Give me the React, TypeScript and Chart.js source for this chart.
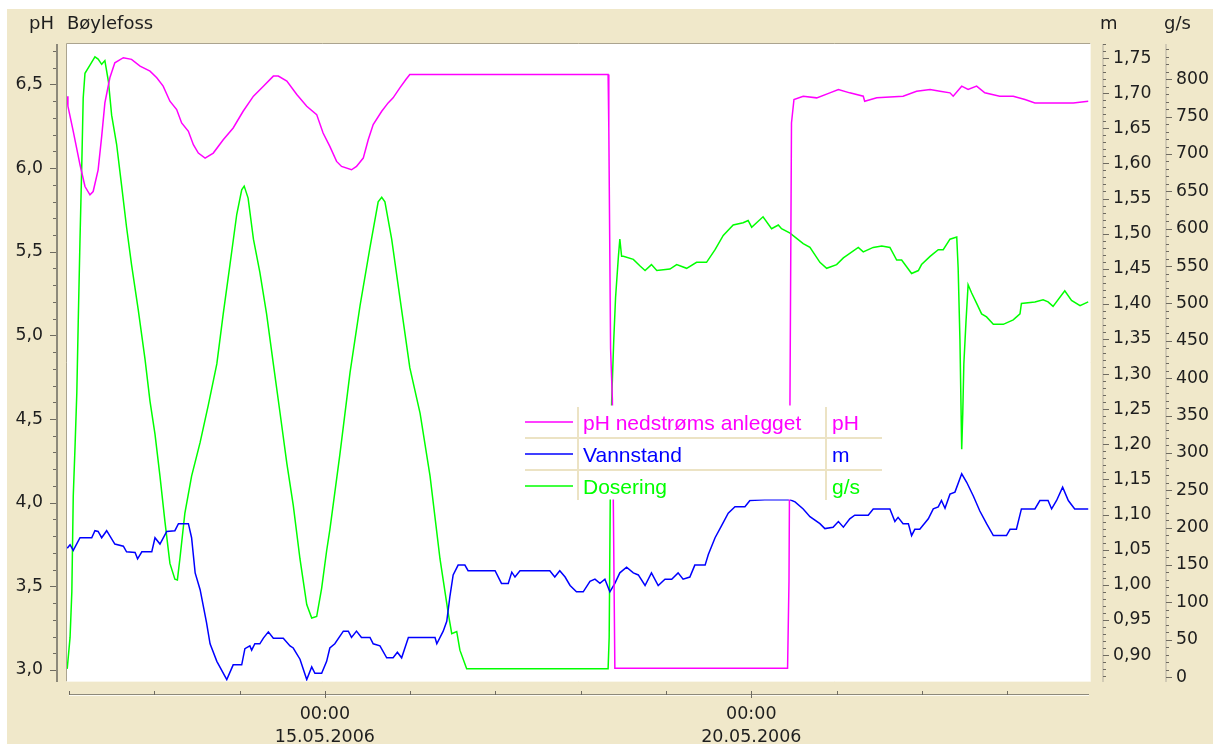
import React, { useEffect, useRef } from "react";
import { Chart, registerables } from "chart.js";

Chart.register(...registerables);

// ---- Data (x in hours since 12.05.2006 00:00) ----
const phHours = [-0.5, -0.3, 1.2, 3.1, 4.5, 5.9, 6.8, 8.2, 9.2, 10.1, 11.5, 12.9, 15.3, 17.6, 20.0, 22.8, 24.7, 26.5, 28.4, 30.3, 31.7, 33.6, 35.0, 36.4, 38.3, 40.6, 43.4, 46.2, 49.0, 51.9, 54.7, 57.5, 58.9, 61.3, 64.1, 66.9, 69.7, 71.5, 73.4, 75.3, 76.7, 79.5, 80.9, 82.8, 84.2, 85.6, 88.0, 89.8, 91.2, 93.1, 94.8, 95.9, 151.7, 151.9, 152.4, 152.9, 153.6, 202.2, 202.6, 203.3, 204.0, 206.6, 210.4, 214.1, 216.5, 219.7, 223.5, 223.9, 227.3, 234.7, 238.5, 242.3, 245.1, 247.9, 248.8, 251.2, 253.0, 255.4, 257.7, 261.9, 265.7, 269.0, 271.8, 276.0, 282.6, 286.8];
const phValues = [6.43, 6.37, 6.22, 6.02, 5.89, 5.84, 5.86, 5.99, 6.19, 6.39, 6.54, 6.63, 6.66, 6.65, 6.61, 6.58, 6.54, 6.49, 6.40, 6.35, 6.27, 6.22, 6.14, 6.09, 6.06, 6.09, 6.17, 6.24, 6.34, 6.43, 6.49, 6.55, 6.55, 6.52, 6.44, 6.37, 6.32, 6.21, 6.13, 6.04, 6.01, 5.99, 6.01, 6.06, 6.17, 6.26, 6.34, 6.39, 6.42, 6.48, 6.53, 6.56, 6.56, 6.24, 4.92, 4.62, 3.01, 3.01, 3.53, 6.27, 6.41, 6.43, 6.42, 6.45, 6.47, 6.45, 6.43, 6.40, 6.42, 6.43, 6.46, 6.47, 6.46, 6.45, 6.43, 6.49, 6.47, 6.49, 6.45, 6.43, 6.43, 6.41, 6.39, 6.39, 6.39, 6.40];

const levelHours = [-0.5, 0.3, 1.2, 3.1, 6.4, 7.3, 8.2, 9.2, 10.6, 12.9, 15.3, 16.2, 18.6, 19.3, 20.5, 23.3, 24.2, 25.6, 27.5, 29.8, 30.8, 33.6, 34.5, 35.5, 36.9, 38.7, 39.7, 41.6, 44.4, 46.2, 48.6, 49.5, 50.9, 51.4, 52.3, 53.7, 54.7, 56.1, 57.5, 60.3, 62.2, 63.1, 65.0, 66.9, 68.3, 69.2, 71.1, 72.5, 73.4, 74.8, 77.2, 78.6, 79.5, 80.9, 82.3, 84.7, 85.6, 87.5, 89.4, 91.2, 92.4, 93.6, 95.5, 103.0, 103.5, 105.3, 106.3, 107.2, 108.1, 109.5, 111.4, 112.3, 119.9, 121.7, 123.6, 124.6, 125.5, 126.9, 135.3, 136.7, 138.1, 139.6, 141.0, 142.8, 144.7, 146.6, 148.0, 149.4, 150.8, 152.2, 153.6, 155.0, 156.9, 158.8, 160.2, 162.1, 163.9, 165.8, 167.7, 169.6, 171.4, 172.8, 174.7, 176.1, 179.0, 179.9, 181.8, 183.6, 185.5, 187.4, 190.2, 191.6, 195.8, 202.9, 204.3, 206.6, 208.5, 211.3, 212.7, 215.0, 216.5, 217.9, 219.7, 221.1, 224.9, 226.3, 231.0, 232.4, 233.3, 234.7, 236.2, 237.1, 238.0, 239.4, 241.8, 243.2, 244.6, 245.5, 246.5, 247.9, 249.3, 251.2, 252.6, 254.5, 256.3, 258.2, 260.1, 263.8, 264.8, 266.6, 268.0, 271.8, 273.2, 275.5, 276.5, 277.9, 279.6, 281.2, 283.0, 286.8];
const levelValues = [1.052, 1.057, 1.049, 1.067, 1.067, 1.077, 1.076, 1.067, 1.077, 1.058, 1.055, 1.047, 1.046, 1.037, 1.047, 1.047, 1.067, 1.058, 1.076, 1.077, 1.087, 1.087, 1.067, 1.017, 0.993, 0.946, 0.916, 0.891, 0.865, 0.886, 0.886, 0.909, 0.913, 0.907, 0.916, 0.916, 0.924, 0.933, 0.924, 0.924, 0.913, 0.910, 0.894, 0.865, 0.883, 0.874, 0.874, 0.891, 0.91, 0.916, 0.934, 0.934, 0.925, 0.934, 0.925, 0.925, 0.916, 0.913, 0.896, 0.896, 0.904, 0.896, 0.925, 0.925, 0.916, 0.934, 0.948, 0.984, 1.014, 1.028, 1.028, 1.020, 1.020, 1.002, 1.002, 1.018, 1.011, 1.020, 1.020, 1.011, 1.020, 1.011, 0.999, 0.990, 0.990, 1.005, 1.008, 1.002, 1.008, 0.990, 1.002, 1.017, 1.025, 1.017, 1.014, 0.999, 1.017, 0.999, 1.008, 1.008, 1.017, 1.008, 1.011, 1.028, 1.028, 1.043, 1.067, 1.084, 1.102, 1.111, 1.111, 1.120, 1.121, 1.121, 1.118, 1.108, 1.097, 1.087, 1.080, 1.082, 1.090, 1.082, 1.094, 1.099, 1.099, 1.108, 1.108, 1.090, 1.096, 1.087, 1.087, 1.070, 1.079, 1.079, 1.094, 1.108, 1.111, 1.120, 1.109, 1.129, 1.132, 1.158, 1.146, 1.126, 1.105, 1.087, 1.070, 1.070, 1.079, 1.079, 1.108, 1.108, 1.120, 1.120, 1.108, 1.120, 1.139, 1.120, 1.108, 1.108];

const doseHours = [-0.5, 0.3, 0.8, 1.2, 1.7, 2.2, 2.6, 3.1, 3.6, 4.0, 4.5, 5.9, 7.3, 8.2, 9.2, 10.1, 11.1, 12.0, 13.4, 14.8, 16.2, 17.6, 19.5, 21.4, 22.8, 24.2, 25.6, 27.0, 28.4, 29.8, 30.5, 31.2, 32.6, 34.5, 36.9, 39.2, 41.6, 43.4, 45.3, 47.2, 48.6, 49.3, 50.4, 51.9, 53.7, 55.6, 57.5, 59.4, 61.3, 63.1, 65.0, 66.9, 68.3, 69.7, 71.1, 72.5, 73.4, 76.2, 79.1, 81.9, 84.7, 87.0, 88.0, 88.9, 90.8, 93.1, 95.9, 98.8, 101.6, 104.4, 106.7, 107.7, 109.1, 110.0, 111.9, 151.7, 152.0, 152.4, 152.7, 153.3, 153.8, 154.6, 155.0, 155.5, 156.0, 158.8, 160.7, 162.1, 163.9, 165.4, 169.1, 171.0, 173.8, 176.6, 179.4, 181.8, 184.1, 186.9, 189.7, 191.1, 192.1, 195.3, 197.7, 199.6, 200.5, 202.9, 206.6, 208.5, 211.3, 213.2, 216.0, 217.9, 218.8, 222.1, 223.5, 226.3, 228.7, 231.0, 232.9, 234.3, 237.1, 239.0, 239.9, 242.3, 244.6, 246.0, 247.9, 249.8, 250.2, 250.7, 251.2, 251.5, 251.8, 252.4, 253.0, 254.0, 255.4, 256.8, 258.2, 260.1, 262.9, 265.7, 267.6, 268.0, 271.8, 274.1, 275.5, 276.9, 280.2, 282.1, 284.5, 286.8];
const doseValues = [11, 53, 114, 242, 308, 380, 475, 586, 686, 775, 808, 819, 830, 827, 820, 825, 797, 752, 713, 658, 602, 552, 491, 425, 369, 325, 269, 208, 152, 131, 130, 158, 219, 269, 314, 364, 419, 486, 552, 619, 652, 657, 641, 586, 542, 486, 419, 353, 286, 230, 158, 97, 79, 81, 119, 169, 197, 297, 408, 497, 575, 636, 642, 636, 586, 508, 414, 353, 269, 158, 86, 58, 61, 36, 11, 11, 53, 297, 369, 452, 508, 563, 586, 563, 563, 559, 550, 544, 552, 544, 546, 552, 547, 555, 555, 572, 591, 605, 608, 611, 602, 616, 600, 605, 600, 594, 580, 575, 555, 547, 552, 561, 564, 575, 569, 575, 577, 575, 558, 558, 540, 544, 552, 563, 572, 572, 586, 589, 547, 452, 305, 353, 419, 475, 525, 514, 500, 486, 482, 472, 472, 478, 486, 500, 502, 505, 502, 496, 517, 504, 497, 502];

const xTickHours = [72, 192];
const xTickTimes = ["00:00", "00:00"];
const xTickDates = ["15.05.2006", "20.05.2006"];

const seriesNames = ["pH nedstrøms anlegget", "Vannstand", "Dosering"];
const seriesUnits = ["pH", "m", "g/s"];
const seriesColors = ["#ff00ff", "#0000ff", "#00ff00"];
const chartTitle = "Bøylefoss";

// ---- Styling ----
const TICK_FONT = '"DejaVu Sans", Verdana, sans-serif';
const LEGEND_FONT = '"Liberation Sans", Arial, sans-serif';
const TEXT = "#1e1e1e";
const AXIS_DARK = "#6f6b60";

const fmtComma = (v: number, d: number) => v.toFixed(d).replace(".", ",");

function stepTicks(scale: any, step: number) {
  const out: { value: number }[] = [];
  const k0 = Math.ceil(scale.min / step - 1e-9);
  const k1 = Math.floor(scale.max / step + 1e-9);
  for (let k = k0; k <= k1; k++) out.push({ value: Math.round(k * step * 1000) / 1000 });
  scale.ticks = out;
}

function drawMinorTicks(ctx: CanvasRenderingContext2D, scale: any, x: number, kFrom: number, kTo: number, unit: number, side: number) {
  ctx.strokeStyle = AXIS_DARK;
  ctx.lineWidth = 1;
  for (let k = kFrom; k <= kTo; k++) {
    const y = Math.round(scale.getPixelForValue(k * unit)) + 0.5;
    const len = k % 5 === 0 ? 6 : 3;
    ctx.beginPath();
    ctx.moveTo(x, y);
    ctx.lineTo(x + side * len, y);
    ctx.stroke();
  }
}

const decorPlugin = {
  id: "decor",
  beforeDraw(chart: any) {
    const { ctx, chartArea: a } = chart;
    ctx.save();
    ctx.fillStyle = "#ffffff";
    ctx.fillRect(a.left, a.top, a.right - a.left, a.bottom - a.top);
    ctx.restore();
  },
  afterDatasetsDraw(chart: any) {
    const { ctx } = chart;
    ctx.save();
    // legend table
    ctx.fillStyle = "#ffffff";
    ctx.fillRect(523, 405.5, 359, 94);
    ctx.fillStyle = "#ece3c4";
    ctx.fillRect(577, 407, 2, 93);
    ctx.fillRect(825, 407, 2, 93);
    ctx.fillRect(525, 437, 357, 2);
    ctx.fillRect(525, 469, 357, 2);
    const rowsY = [422, 454, 486];
    ctx.font = `21px ${LEGEND_FONT}`;
    ctx.textAlign = "left";
    ctx.textBaseline = "alphabetic";
    seriesNames.forEach((name, i) => {
      ctx.strokeStyle = seriesColors[i];
      ctx.lineWidth = 1.5;
      ctx.beginPath();
      ctx.moveTo(525, rowsY[i]);
      ctx.lineTo(573, rowsY[i]);
      ctx.stroke();
      ctx.fillStyle = seriesColors[i];
      ctx.fillText(name, 583, rowsY[i] + 7.6);
      ctx.fillText(seriesUnits[i], 832, rowsY[i] + 7.6);
    });
    ctx.restore();
  },
  afterDraw(chart: any) {
    const { ctx, chartArea: a, scales } = chart;
    ctx.save();
    ctx.lineWidth = 1;
    // plot frame (sunken look)
    ctx.strokeStyle = "#aba48f";
    ctx.beginPath();
    ctx.moveTo(a.left - 0.5, a.bottom + 0.5);
    ctx.lineTo(a.left - 0.5, a.top - 0.5);
    ctx.lineTo(a.right + 0.5, a.top - 0.5);
    ctx.stroke();
    ctx.strokeStyle = "#faf7ec";
    ctx.beginPath();
    ctx.moveTo(a.right + 0.5, a.top - 0.5);
    ctx.lineTo(a.right + 0.5, a.bottom + 0.5);
    ctx.lineTo(a.left - 0.5, a.bottom + 0.5);
    ctx.stroke();

    // left pH axis
    const yPh = scales.yPh;
    ctx.fillStyle = "#8d897a";
    ctx.fillRect(a.left - 11, a.top, 2, a.bottom - a.top + 1);
    drawMinorTicks(ctx, yPh, a.left - 11, Math.ceil(yPh.min * 10), Math.floor(yPh.max * 10), 0.1, -1);

    // right m axis
    const yM = scales.yM;
    const mx = a.right + 13;
    ctx.fillStyle = "#b3ae9f";
    ctx.fillRect(mx - 0.5, a.top, 1, a.bottom - a.top + 1);
    drawMinorTicks(ctx, yM, mx, Math.ceil(yM.min * 100), Math.floor(yM.max * 100), 0.01, 1);

    // right g/s axis
    const yG = scales.yG;
    const gx = a.right + 76;
    ctx.fillStyle = "#b3ae9f";
    ctx.fillRect(gx - 0.5, a.top, 1, a.bottom - a.top + 1);
    drawMinorTicks(ctx, yG, gx, Math.ceil(yG.min / 10), Math.floor(yG.max / 10), 10, 1);

    // bottom time axis
    const xs = scales.x;
    const by = a.bottom + 13;
    const x0 = Math.round(xs.getPixelForValue(0));
    ctx.fillStyle = "#8d897a";
    ctx.fillRect(x0, by, a.right - 1 - x0, 1);
    ctx.fillStyle = "#fdfbf2";
    ctx.fillRect(x0, by + 1, a.right - 1 - x0, 1);
    ctx.strokeStyle = AXIS_DARK;
    for (let h = 0; h <= xs.max; h += 24) {
      const px = Math.round(xs.getPixelForValue(h)) + 0.5;
      const major = xTickHours.indexOf(h) >= 0;
      ctx.beginPath();
      ctx.moveTo(px, by - 3);
      ctx.lineTo(px, major ? by + 4 : by + 1);
      ctx.stroke();
    }

    // titles
    ctx.fillStyle = TEXT;
    ctx.font = `18px ${TICK_FONT}`;
    ctx.textAlign = "left";
    ctx.textBaseline = "alphabetic";
    ctx.fillText(seriesUnits[0], 29, 29);
    ctx.fillText(chartTitle, 67, 29);
    ctx.fillText(seriesUnits[1], 1100, 29);
    ctx.fillText(seriesUnits[2], 1164, 29);
    ctx.restore();
  },
};

const tickFont = { family: TICK_FONT, size: 17.3 };

export default function App() {
  const ref = useRef<HTMLCanvasElement>(null);
  useEffect(() => {
    if (!ref.current) return;
    const mk = (hs: number[], vs: number[]) => hs.map((h, i) => ({ x: h, y: vs[i] }));
    const chart = new Chart(ref.current, {
      type: "line",
      data: {
        datasets: [
          { label: seriesNames[0], data: mk(phHours, phValues), yAxisID: "yPh", borderColor: seriesColors[0], borderWidth: 1.5, pointRadius: 0, tension: 0, fill: false },
          { label: seriesNames[1], data: mk(levelHours, levelValues), yAxisID: "yM", borderColor: seriesColors[1], borderWidth: 1.5, pointRadius: 0, tension: 0, fill: false },
          { label: seriesNames[2], data: mk(doseHours, doseValues), yAxisID: "yG", borderColor: seriesColors[2], borderWidth: 1.5, pointRadius: 0, tension: 0, fill: false },
        ],
      },
      options: {
        responsive: false,
        animation: false,
        events: [],
        layout: { padding: { top: 44, left: 0, right: 0, bottom: 0 }, autoPadding: false },
        plugins: { legend: { display: false }, tooltip: { enabled: false }, title: { display: false } },
        scales: {
          x: {
            type: "linear",
            position: "bottom",
            min: -0.56,
            max: 287.3,
            afterFit: (s: any) => { s.height = 63; },
            afterBuildTicks: (s: any) => { s.ticks = xTickHours.map((v) => ({ value: v })); },
            grid: { display: false, drawTicks: false },
            border: { display: false },
            ticks: {
              autoSkip: false,
              maxRotation: 0,
              minRotation: 0,
              padding: 21.5,
              color: TEXT,
              font: { family: TICK_FONT, size: 17.5, lineHeight: "23px" },
              callback: (v: any) => {
                const i = xTickHours.indexOf(Number(v));
                return i >= 0 ? [xTickTimes[i], xTickDates[i]] : "";
              },
            },
          },
          yPh: {
            type: "linear",
            position: "left",
            min: 2.934,
            max: 6.742,
            afterFit: (s: any) => { s.width = 67; },
            afterBuildTicks: (s: any) => stepTicks(s, 0.5),
            grid: { display: false, drawTicks: false },
            border: { display: false },
            ticks: { autoSkip: false, padding: 24, color: TEXT, font: tickFont, callback: (v: any) => fmtComma(Number(v), 1) },
          },
          yM: {
            type: "linear",
            position: "right",
            weight: 0,
            min: 0.863,
            max: 1.77,
            afterFit: (s: any) => { s.width = 63; },
            afterBuildTicks: (s: any) => stepTicks(s, 0.05),
            grid: { display: false, drawTicks: false },
            border: { display: false },
            ticks: { autoSkip: false, padding: 23, color: TEXT, font: tickFont, callback: (v: any) => fmtComma(Number(v), 2) },
          },
          yG: {
            type: "linear",
            position: "right",
            weight: 1,
            min: -5.3,
            max: 847.2,
            afterFit: (s: any) => { s.width = 60; },
            afterBuildTicks: (s: any) => stepTicks(s, 50),
            grid: { display: false, drawTicks: false },
            border: { display: false },
            ticks: { autoSkip: false, padding: 23, color: TEXT, font: tickFont, callback: (v: any) => String(Math.round(Number(v))) },
          },
        },
      },
      plugins: [decorPlugin],
    } as any);
    return () => chart.destroy();
  }, []);

  return (
    <div style={{ position: "fixed", left: 0, top: 0, width: 1213, height: 744, background: "#ffffff", overflow: "hidden" }}>
      <div style={{ position: "absolute", left: 7, top: 9, right: 0, bottom: 0, background: "#f0e8ca" }} />
      <canvas ref={ref} width={1213} height={744} style={{ position: "absolute", left: 0, top: 0, width: 1213, height: 744 }} />
    </div>
  );
}
